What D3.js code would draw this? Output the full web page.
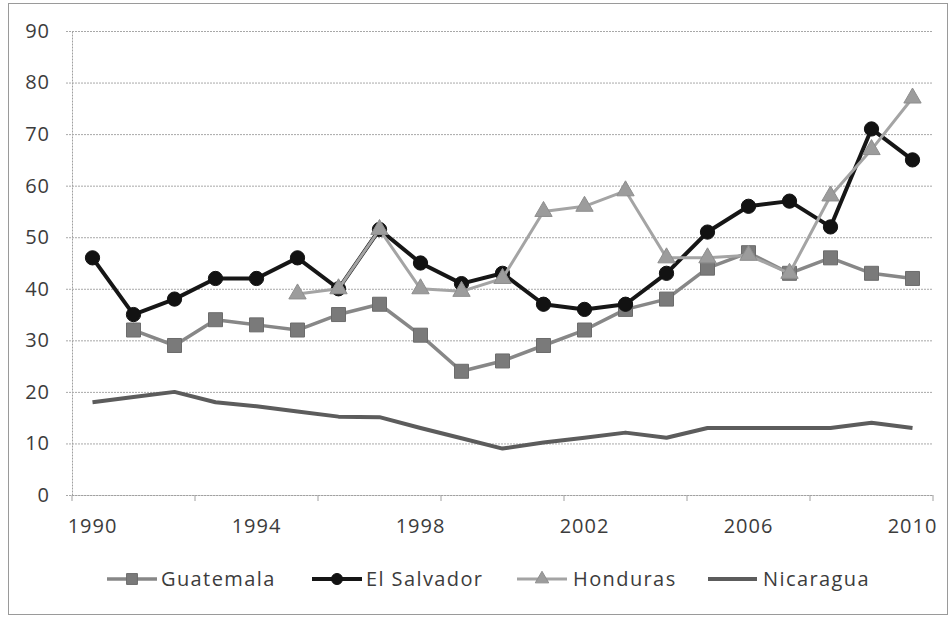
<!DOCTYPE html>
<html>
<head>
<meta charset="utf-8">
<script src="https://cdn.jsdelivr.net/npm/d3@7"></script>
<style>
  html, body { margin: 0; padding: 0; background: #fff; }
  svg { display: block; }
  text { font-family: "Open Sans", "Liberation Sans", sans-serif; fill: #3c3c3c; }
</style>
</head>
<body>
<svg id="chart" width="952" height="617"></svg>
<script>
// ---- data ----
const years = ["1990","1991","1992","1993","1994","1995","1996","1997","1998","1999","2000",
               "2001","2002","2003","2004","2005","2006","2007","2008","2009","2010"];
const xTickLabels = ["1990","1994","1998","2002","2006","2010"];
const yTicks = [0,10,20,30,40,50,60,70,80,90];
const guatemala  = [null,32,29,34,33,32,35,37,31,24,26,29,32,36,38,44,47,43,46,43,42];
const elSalvador = [46,35,38,42,42,46,40,51.5,45,41,43,37,36,37,43,51,56,57,52,71,65];
const honduras   = [null,null,null,null,null,39,40,51.5,40,39.5,42,55,56,59,46,46,46.5,43,58,67,77];
const nicaragua  = [18,19,20,18,17.2,16.2,15.2,15.1,13,11,9,10.2,11.1,12.1,11.1,13,13,13,13,14,13];
const seriesNames = ["Guatemala","El Salvador","Honduras","Nicaragua"];

// ---- layout ----
const svg = d3.select("#chart");
const X0 = 72, X1 = 933, Y0 = 495, Y1 = 31;

svg.append("rect").attr("x",8.5).attr("y",3.5).attr("width",939).attr("height",611)
   .attr("fill","#fff").attr("stroke","#9a9a9a").attr("stroke-width",1);

const x = d3.scaleBand().domain(years).range([X0, X1]).padding(0);
const y = d3.scaleLinear().domain([0, 90]).range([Y0, Y1]);
const cx = d => x(d) + x.bandwidth() / 2;

// y axis with gridlines
const gy = svg.append("g").attr("transform", `translate(${X0},0)`)
  .call(d3.axisLeft(y).tickValues(yTicks).tickSize(-(X1 - X0)).tickSizeOuter(0).tickPadding(22));
gy.select(".domain").attr("stroke","#a0a0a0").attr("stroke-dasharray","2,1");
gy.selectAll(".tick line").attr("x1",-6).attr("stroke","#a8a8a8").attr("stroke-dasharray","2,1");
gy.selectAll(".tick text").style("font-size","20px").style("letter-spacing","1px");

// x axis labels
const gx = svg.append("g").attr("transform", `translate(0,${Y0})`)
  .call(d3.axisBottom(x).tickValues(xTickLabels).tickSize(0).tickPadding(24));
gx.select(".domain").attr("stroke","#a0a0a0").attr("stroke-dasharray","2,1");
gx.selectAll(".tick text").style("font-size","20px").style("letter-spacing","1px");

// x tick marks at band boundaries every 3 categories
const tickYears = years.filter((d,i) => i % 3 === 0);
const tickPos = tickYears.map(d => x(d)).concat([x.range()[1]]);
svg.append("g").selectAll("line").data(tickPos).join("line")
  .attr("x1", d => d).attr("x2", d => d).attr("y1", Y0).attr("y2", Y0 + 6)
  .attr("stroke","#a0a0a0");

// ---- series ----
const styles = {
  "Guatemala":  {data: guatemala,  line: "#878787", w: 3.5, sym: d3.symbolSquare,   size: 196, fill: "#7a7a7a", stroke: "#6c6c6c"},
  "El Salvador":{data: elSalvador, line: "#161616", w: 4,   sym: d3.symbolCircle,   size: 160, fill: "#121212", stroke: "#121212"},
  "Honduras":   {data: honduras,   line: "#a4a4a4", w: 3,   sym: d3.symbolTriangle, size: 130, fill: "#9c9c9c", stroke: "#8e8e8e"},
  "Nicaragua":  {data: nicaragua,  line: "#5c5c5c", w: 4,   sym: null}
};

const line = d3.line().defined(d => d.v != null).x(d => cx(d.year)).y(d => y(d.v));

seriesNames.forEach(name => {
  const s = styles[name];
  const pts = years.map((yr, i) => ({year: yr, v: s.data[i]}));
  const g = svg.append("g");
  g.append("path").datum(pts).attr("d", line)
    .attr("fill","none").attr("stroke", s.line).attr("stroke-width", s.w)
    .attr("stroke-linejoin","round");
  if (s.sym) {
    g.selectAll("path.m").data(pts.filter(d => d.v != null)).join("path")
      .attr("class","m")
      .attr("d", d3.symbol().type(s.sym).size(s.size))
      .attr("transform", d => `translate(${cx(d.year)},${y(d.v)})`)
      .attr("fill", s.fill).attr("stroke", s.stroke).attr("stroke-width", 1);
  }
});

// ---- legend ----
const LY = 579;
const legendPos = [
  {x1: 107, x2: 157, tx: 161},
  {x1: 312, x2: 362, tx: 366},
  {x1: 517, x2: 567, tx: 573},
  {x1: 708, x2: 757, tx: 763}
];
seriesNames.forEach((name, i) => {
  const s = styles[name], p = legendPos[i];
  const g = svg.append("g");
  g.append("line").attr("x1", p.x1).attr("x2", p.x2).attr("y1", LY).attr("y2", LY)
    .attr("stroke", s.line).attr("stroke-width", s.w);
  if (s.sym) {
    g.append("path").attr("d", d3.symbol().type(s.sym).size(s.size * 0.6))
      .attr("transform", `translate(${(p.x1 + p.x2) / 2},${LY})`)
      .attr("fill", s.fill).attr("stroke", s.stroke);
  }
  g.append("text").attr("x", p.tx).attr("y", LY).attr("dy","0.35em")
    .style("font-size","20px").style("letter-spacing","1.4px").text(name);
});
</script>
</body>
</html>
